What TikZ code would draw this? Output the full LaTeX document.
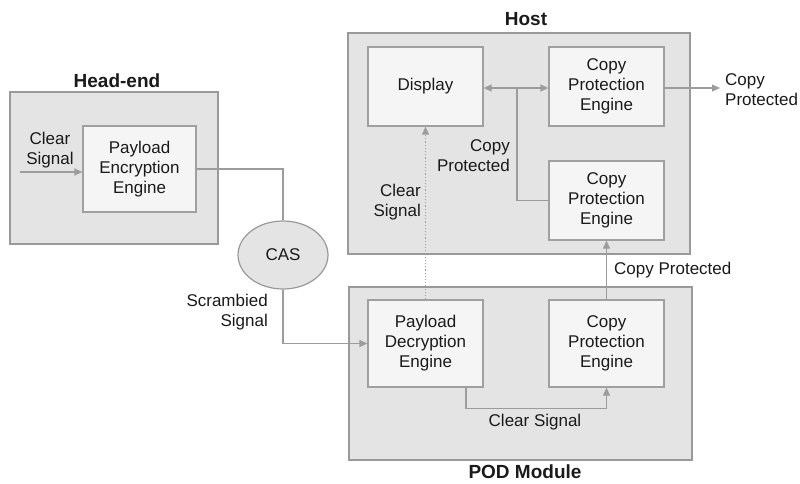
\documentclass[tikz,border=0pt]{standalone}
\usepackage{fontspec}
\setmainfont{Liberation Sans}
\usetikzlibrary{arrows.meta,shapes.geometric}
\definecolor{outerfill}{HTML}{E4E4E4}
\definecolor{outerline}{HTML}{999999}
\definecolor{innerfill}{HTML}{F5F5F5}
\definecolor{innerline}{HTML}{A0A0A0}
\definecolor{wire}{HTML}{9C9C9C}
\definecolor{ink}{HTML}{1A1A1A}
\tikzset{
  group/.style={draw=outerline, fill=outerfill, line width=2pt, rectangle, inner sep=0pt},
  block/.style={draw=innerline, fill=innerfill, line width=1.2pt, rectangle, inner sep=0pt,
    minimum width=115pt, align=center, text=ink, font=\fontsize{17}{20}\selectfont},
  title/.style={text=ink, font=\fontsize{19}{22}\selectfont\bfseries},
  lbl/.style={text=ink, font=\fontsize{17}{20}\selectfont, inner sep=0pt},
  wireline/.style={draw=wire, line width=1.2pt},
  flow/.style={wireline, -{Triangle[length=8pt,width=7pt]}},
  both/.style={wireline, {Triangle[length=8pt,width=7pt]}-{Triangle[length=8pt,width=7pt]}},
}
\begin{document}
\begin{tikzpicture}[x=1pt, y=-1pt]
\useasboundingbox (0,0) rectangle (800,483);

% enclosing groups
\node[group, minimum width=208pt, minimum height=152pt] (headend) at (114,168) {};
\node[group, minimum width=342pt, minimum height=221pt] (host) at (519,143.5) {};
\node[group, minimum width=343pt, minimum height=173pt] (pod) at (520.5,373.5) {};

\node[title] (headendT) at (117,81) {Head-end};
\node[title] (hostT) at (526,19) {Host};
\node[title, inner sep=0pt, anchor=base] (podT) at (525,478.5) {POD Module};

% engines
\node[block, minimum width=113pt, minimum height=86pt] (pee) at (139.5,169) {Payload\\Encryption\\Engine};
\node[block, minimum height=79pt] (display) at (425.5,86.5) {Display};
\node[block, minimum height=79pt] (cpe1) at (606.5,86.5) {Copy\\Protection\\Engine};
\node[block, minimum height=79pt] (cpe2) at (606.5,200.5) {Copy\\Protection\\Engine};
\node[block, minimum height=87pt] (pde) at (425.5,343.5) {Payload\\Decryption\\Engine};
\node[block, minimum height=87pt] (cpe3) at (606.5,343.5) {Copy\\Protection\\Engine};

\node[ellipse, draw=outerline, fill=outerfill, line width=1.2pt, minimum width=90pt, minimum height=68pt,
  inner sep=0pt, text=ink, font=\fontsize{17}{20}\selectfont] (cas) at (283,255) {CAS};

% free ends
\coordinate (src) at (20,172);
\coordinate (sink) at (720,88);
\coordinate (junction) at (517,88);

% connectors
\draw[flow] (src) -- (src -| pee.west);
\draw[wireline] (pee.east) -| (cas.north);
\draw[flow] (cas.south) |- (pde.west);
\draw[flow] ([xshift=40.5pt]pde.south) -- ++(0,21) -| (cpe3.south);
\draw[flow, dotted, line width=1.4pt] (pde.north) -- (display.south);
\draw[flow] (cpe3.north) -- (cpe2.south);
\draw[both] (display.east |- junction) -- (cpe1.west |- junction);
\draw[wireline] (cpe2.west) -| (junction);
\draw[flow] (cpe1.east |- sink) -- (sink);

% labels
\node[lbl, align=center] (l1) at (50,150) {Clear\\Signal};
\node[lbl, align=right, anchor=east] (l2) at (268,312) {Scrambied\\Signal};
\node[lbl, align=right, anchor=east] (l3) at (421,202) {Clear\\Signal};
\node[lbl, align=right, anchor=east] (l4) at (510,156) {Copy\\Protected};
\node[lbl, align=left, anchor=west] (l5) at (725,90) {Copy\\Protected};
\node[lbl, anchor=west] (l6) at (614,270) {Copy Protected};
\node[lbl] (l7) at (535,422) {Clear Signal};
\end{tikzpicture}
\end{document}
